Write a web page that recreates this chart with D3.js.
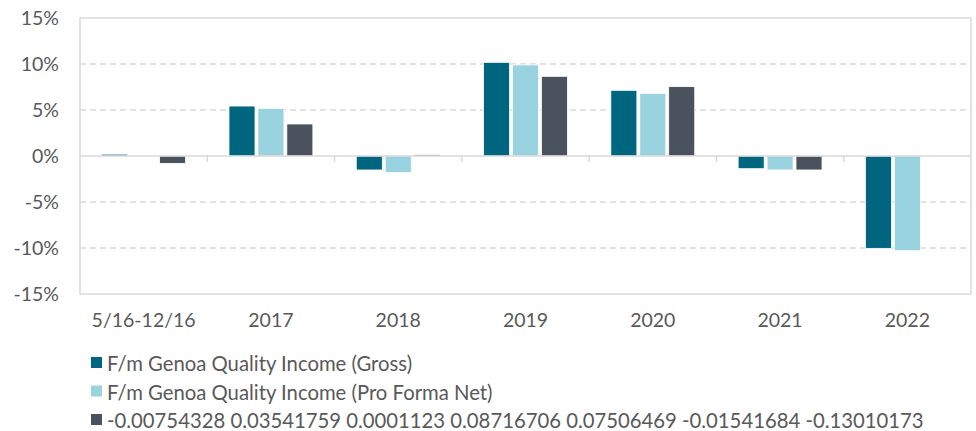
<!DOCTYPE html>
<html lang="en">
<head>
<meta charset="utf-8">
<script src="https://d3js.org/d3.v7.min.js"></script>
<style>
  body { margin: 0; background: #fff; }
  svg text { font-family: Lato, "Open Sans", sans-serif; fill: #595959; }
</style>
</head>
<body>
<svg id="chart" width="976" height="431"></svg>
<script>
// data (percent)
var categories = ["5/16-12/16", "2017", "2018", "2019", "2020", "2021", "2022"];
var seriesNames = [
  "F/m Genoa Quality Income (Gross)",
  "F/m Genoa Quality Income (Pro Forma Net)",
  "-0.00754328 0.03541759 0.0001123 0.08716706 0.07506469 -0.01541684 -0.13010173"
];
var gross = [0.2, 5.43, -1.52, 10.18, 7.14, -1.38, -10.04];
var proForma = [-0.08, 5.18, -1.8, 9.9, 6.81, -1.52, -10.29];
var third = [-0.8, 3.48, 0.15, 8.66, 7.54, -1.52, null];
var colors = ["#00667f", "#99d3df", "#4a525d"];
var yTicks = [-15, -10, -5, 0, 5, 10, 15];

var svg = d3.select("#chart");
var mLeft = 80, mRight = 971, mTop = 18, mBottom = 294;

var x = d3.scaleBand().domain(categories).range([mLeft, mRight]);
var x1 = d3.scaleBand().domain([0, 1, 2]).range([0, x.bandwidth()]).paddingOuter(0.75).paddingInner(0.1);
var y = d3.scaleLinear().domain([-15, 15]).range([mBottom, mTop]);

// grid
svg.append("g").selectAll("line")
  .data(yTicks.filter(function(d) { return d != 0 && Math.abs(d) != 15; }))
  .enter().append("line")
  .attr("x1", mLeft).attr("x2", mRight)
  .attr("y1", function(d) { return y(d); }).attr("y2", function(d) { return y(d); })
  .attr("stroke", "#d9d9d9").attr("stroke-width", 1.5).attr("stroke-dasharray", "6,4");

// frame
svg.append("rect").attr("x", mLeft).attr("y", mTop)
  .attr("width", mRight - mLeft).attr("height", mBottom - mTop)
  .attr("fill", "none").attr("stroke", "#d9d9d9").attr("stroke-width", 1.5);

// bars
var all = [gross, proForma, third];
var bars = [];
all.forEach(function(s, i) {
  s.forEach(function(v, j) { if (v != null) bars.push({ s: i, c: categories[j], v: v }); });
});
svg.append("g").selectAll("rect")
  .data(bars).enter().append("rect")
  .attr("x", function(d) { return x(d.c) + x1(d.s); })
  .attr("width", x1.bandwidth())
  .attr("y", function(d) { return y(Math.max(0, d.v)); })
  .attr("height", function(d) { return Math.abs(y(d.v) - y(0)); })
  .attr("fill", function(d) { return colors[d.s]; })
  .attr("stroke", "#fff").attr("stroke-width", 0.8);

// zero axis with ticks
var xAxis = svg.append("g").attr("transform", "translate(0," + y(0) + ")");
xAxis.append("line").attr("x1", mLeft).attr("x2", mRight).attr("stroke", "#d9d9d9").attr("stroke-width", 1.5);
xAxis.selectAll("line.tk")
  .data(categories.slice(1)).enter().append("line").attr("class", "tk")
  .attr("x1", function(d) { return x(d); }).attr("x2", function(d) { return x(d); })
  .attr("y1", 0).attr("y2", 6).attr("stroke", "#d9d9d9").attr("stroke-width", 1.5);

// x labels
svg.append("g").selectAll("text")
  .data(categories).enter().append("text")
  .attr("x", function(d) { return x(d) + x.bandwidth() / 2; })
  .attr("y", 327).attr("text-anchor", "middle").attr("font-size", 19.5)
  .text(function(d) { return d; });

// y labels
svg.append("g").selectAll("text")
  .data(yTicks).enter().append("text")
  .attr("x", 59).attr("y", function(d) { return y(d) + 7; })
  .attr("text-anchor", "end").attr("font-size", 19.5)
  .text(function(d) { return d + "%"; });

// legend
var leg = svg.append("g").selectAll("g")
  .data(seriesNames).enter().append("g")
  .attr("transform", function(d, i) { return "translate(91," + (371 + i * 28.5) + ")"; });
leg.append("rect").attr("x", 0).attr("y", -14).attr("width", 11).attr("height", 11)
  .attr("fill", function(d, i) { return colors[i]; });
leg.append("text").attr("x", 16).attr("y", 0).attr("font-size", 20.3)
  .text(function(d) { return d; });
</script>
</body>
</html>
